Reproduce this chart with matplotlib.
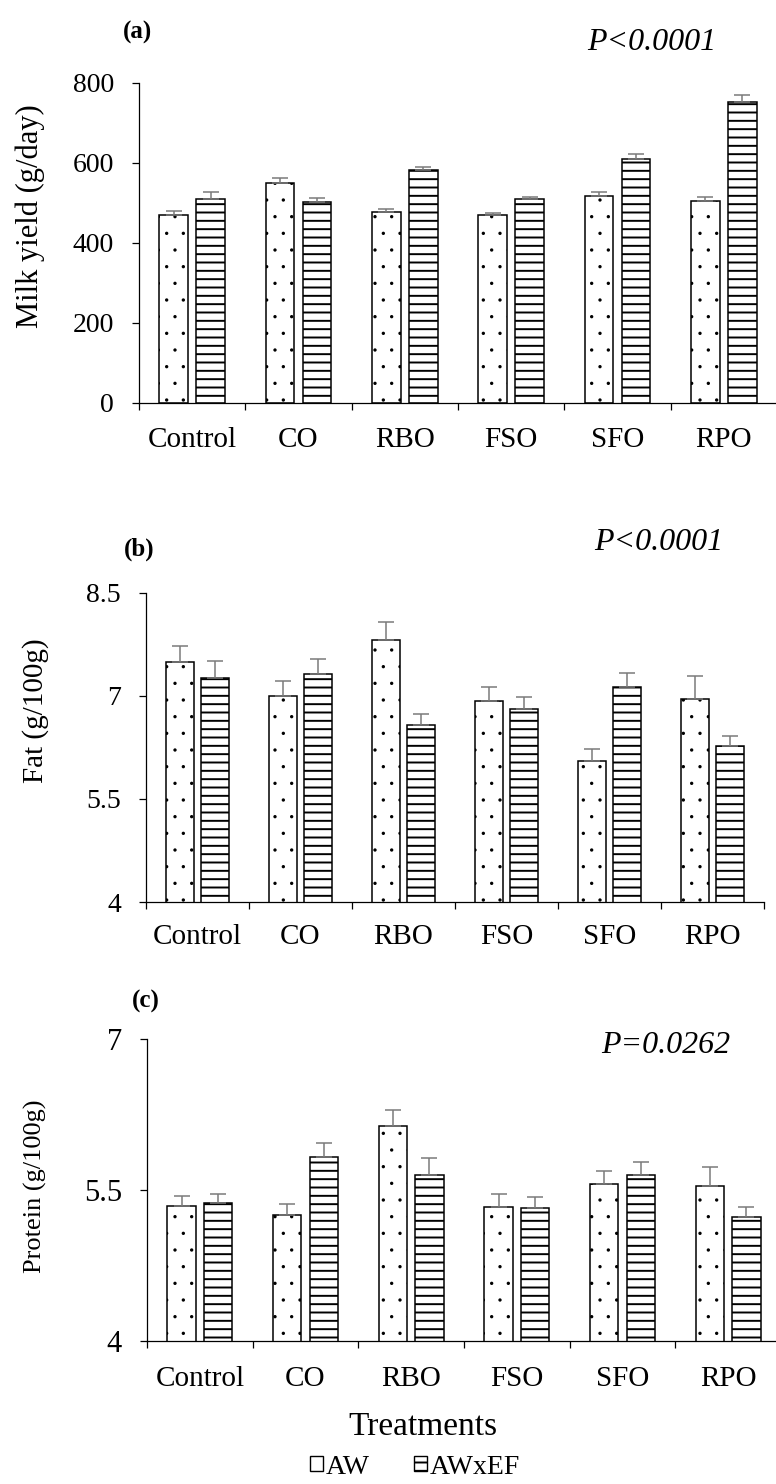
import numpy as np
import matplotlib
matplotlib.use('Agg')
import matplotlib.pyplot as plt
from matplotlib.patches import Patch

plt.rcParams['font.family'] = ['Liberation Serif', 'DejaVu Serif']
plt.rcParams['hatch.linewidth'] = 1.4

treatments = ['Control', 'CO', 'RBO', 'FSO', 'SFO', 'RPO']
groups = ['AW', 'AWxEF']

# (a) milk yield, g/day
milk_aw = [470, 551, 478, 470, 517, 506]
milk_aw_se = [10, 12, 7, 5, 10, 9]
milk_awef = [511, 502, 582, 509, 611, 752]
milk_awef_se = [16, 11, 9, 7, 11, 18]

# (b) fat, g/100g
fat_aw = [7.49, 7.00, 7.81, 6.93, 6.05, 6.95]
fat_aw_se = [0.23, 0.21, 0.27, 0.20, 0.18, 0.34]
fat_awef = [7.26, 7.32, 6.58, 6.81, 7.13, 6.27]
fat_awef_se = [0.25, 0.22, 0.16, 0.17, 0.20, 0.15]

# (c) protein, g/100g
prot_aw = [5.34, 5.25, 6.14, 5.33, 5.56, 5.54]
prot_aw_se = [0.10, 0.11, 0.15, 0.13, 0.13, 0.19]
prot_awef = [5.37, 5.83, 5.65, 5.32, 5.65, 5.23]
prot_awef_se = [0.09, 0.14, 0.17, 0.11, 0.13, 0.10]

W, H = 776, 1484
fig = plt.figure(figsize=(W / 100, H / 100), dpi=100)


def px_axes(left, right, top, bottom):
    return fig.add_axes([left / W, 1 - bottom / H, (right - left) / W, (bottom - top) / H])


def set_hlw(bars, lw):
    # thin hatch strokes for the dotted bars
    for b in bars:
        if hasattr(b, 'set_hatch_linewidth'):
            b.set_hatch_linewidth(lw)
        else:
            b._hatch_linewidth = lw


panels = [
    dict(box=(139, 777, 83, 403), aw=milk_aw, aw_se=milk_aw_se, ef=milk_awef, ef_se=milk_awef_se,
         ylim=(0, 800), yticks=[0, 200, 400, 600, 800], yticklabels=['0', '200', '400', '600', '800'],
         ylabel='Milk yield (g/day)', ylab_pos=(30, 216), ylab_size=22, tick_size=20, xpad=17,
         tag='(a)', tag_pos=(138, 32), ptxt='P<0.0001', p_pos=(587, 50)),
    dict(box=(146, 764, 592.7, 902), aw=fat_aw, aw_se=fat_aw_se, ef=fat_awef, ef_se=fat_awef_se,
         ylim=(4, 8.5), yticks=[4, 5.5, 7, 8.5], yticklabels=['4', '5.5', '7', '8.5'],
         ylabel='Fat (g/100g)', ylab_pos=(36, 711), ylab_size=21, tick_size=20, xpad=15.5,
         tag='(b)', tag_pos=(139, 549), ptxt='P<0.0001', p_pos=(594, 550)),
    dict(box=(147, 781, 1039, 1341), aw=prot_aw, aw_se=prot_aw_se, ef=prot_awef, ef_se=prot_awef_se,
         ylim=(4, 7), yticks=[4, 5.5, 7], yticklabels=['4', '5.5', '7'],
         ylabel='Protein (g/100g)', ylab_pos=(35, 1186), ylab_size=19, tick_size=22, xpad=18,
         tag='(c)', tag_pos=(146, 1001), ptxt='P=0.0262', p_pos=(601, 1053)),
]

x = np.arange(len(treatments)) + 0.5
bw = 0.27
off = 0.173

for p in panels:
    ax = px_axes(*p['box'])
    b1 = ax.bar(x - off, p['aw'], bw, color='white', edgecolor='black', linewidth=1.1, hatch='.', zorder=2)
    set_hlw(b1, 0.0)
    ax.bar(x + off, p['ef'], bw, color='white', edgecolor='black', linewidth=1.1, hatch='--', zorder=2)
    ax.errorbar(x - off, p['aw'], yerr=[np.zeros(6), p['aw_se']], fmt='none', ecolor='#7a7a7a',
                elinewidth=1.1, capsize=6, capthick=1.1, zorder=3)
    ax.errorbar(x + off, p['ef'], yerr=[np.zeros(6), p['ef_se']], fmt='none', ecolor='#7a7a7a',
                elinewidth=1.1, capsize=6, capthick=1.1, zorder=3)

    ax.set_xlim(0, 6)
    ax.set_ylim(*p['ylim'])
    ax.set_yticks(p['yticks'])
    ax.set_yticklabels(p['yticklabels'], fontsize=p['tick_size'])
    ax.set_xticks(np.arange(7))
    ax.set_xticklabels([])
    ax.set_xticks(x, minor=True)
    ax.set_xticklabels(treatments, minor=True, fontsize=21)
    ax.tick_params(axis='x', which='major', direction='out', length=5, width=0.9)
    ax.tick_params(axis='x', which='minor', length=0, pad=p['xpad'])
    ax.tick_params(axis='y', direction='out', length=5, width=0.9, pad=13)
    for s in ['top', 'right']:
        ax.spines[s].set_visible(False)
    for s in ['left', 'bottom']:
        ax.spines[s].set_linewidth(0.9)

    fig.text(p['ylab_pos'][0] / W, 1 - p['ylab_pos'][1] / H, p['ylabel'], rotation=90,
             ha='center', va='center', fontsize=p['ylab_size'])
    fig.text(p['tag_pos'][0] / W, 1 - p['tag_pos'][1] / H, p['tag'], ha='center', va='center',
             fontsize=18, fontweight='bold')
    fig.text(p['p_pos'][0] / W, 1 - p['p_pos'][1] / H, p['ptxt'], ha='left', va='baseline',
             fontsize=23, style='italic')

fig.text(423 / W, 1 - 1435 / H, 'Treatments', ha='center', va='baseline', fontsize=24)

handles = [Patch(facecolor='white', edgecolor='black', linewidth=1.0, label=groups[0]),
           Patch(facecolor='white', edgecolor='black', linewidth=1.0, hatch='--', label=groups[1])]
fig.legend(handles=handles, loc='center', bbox_to_anchor=(415 / W, 1 - 1467 / H), ncol=2,
           frameon=False, fontsize=20, handlelength=0.45, handleheight=0.45, handletextpad=0.1,
           columnspacing=1.6, borderpad=0)

fig.savefig('out.png', dpi=100)
